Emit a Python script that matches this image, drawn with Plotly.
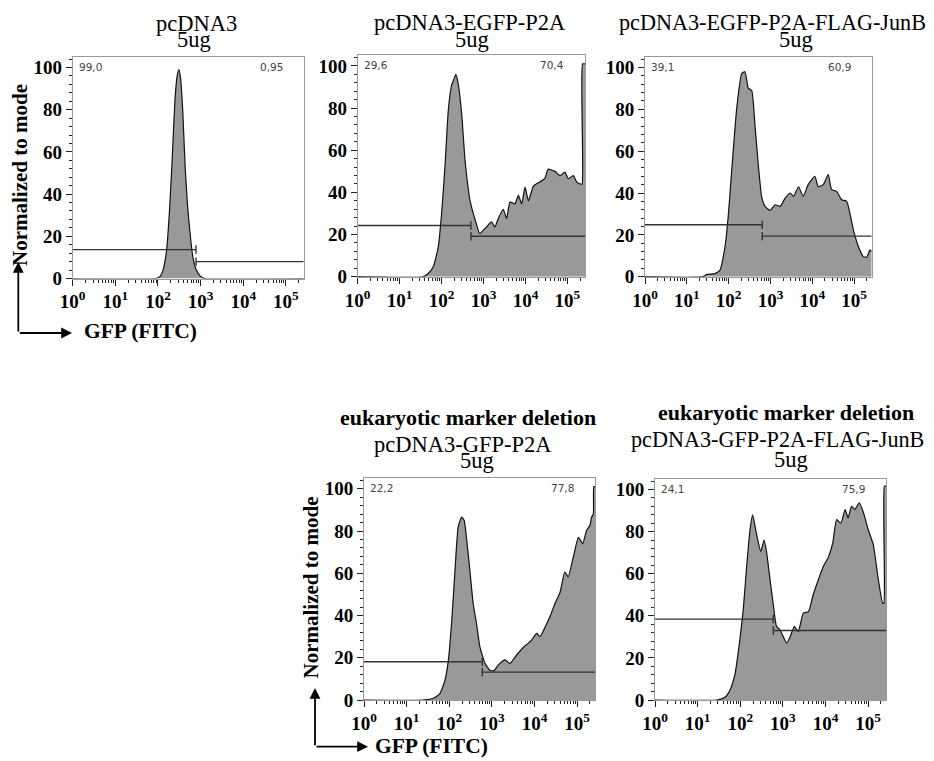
import numpy as np
import plotly.graph_objects as go

W, H = 934, 761
OFF = 8.0  # page offset of the plot inside the browser window
XMAX = 262144.0

# ---- data (x in log10 decades of GFP intensity, y = % of mode) ----
p1_dec = [0, 1.95, 2.05, 2.12, 2.2, 2.27, 2.33, 2.4, 2.45, 2.49, 2.53, 2.58, 2.64, 2.7, 2.76, 2.82, 2.9, 3.0, 3.1, 5.4186]
p1_val = [0, 0, 1, 4, 13, 32, 55, 85, 96, 99, 95, 80, 52, 33, 20, 10, 4, 1, 0, 0]

p2_dec = [0, 1.56, 1.68, 1.80, 1.92, 2.0, 2.08, 2.16, 2.24, 2.30, 2.34, 2.40, 2.48, 2.56, 2.68, 2.80, 2.91, 2.99, 3.07,
          3.19, 3.27, 3.35, 3.47, 3.55, 3.63, 3.75, 3.83, 3.91, 3.99, 4.07, 4.19, 4.34, 4.46, 4.54, 4.70, 4.82,
          4.94, 5.02, 5.14, 5.22, 5.31, 5.35, 5.36, 5.4186]
p2_val = [0, 0, 1.5, 4.7, 14, 30, 52, 79, 91, 94, 96, 91, 77, 55, 36, 27, 20.5, 22, 23.6,
          26, 23.6, 27.6, 32, 27.6, 35.4, 34.6, 38.6, 34.6, 42.5, 36, 43, 45, 46.5, 51, 50, 48,
          49.6, 46.5, 48, 45, 44, 44, 101, 101]

p3_dec = [0, 1.39, 1.47, 1.67, 1.79, 1.91, 1.99, 2.07, 2.19, 2.31, 2.39, 2.47, 2.55, 2.63, 2.71, 2.79, 2.87, 2.99,
          3.11, 3.23, 3.35, 3.47, 3.55, 3.67, 3.78, 3.90, 4.06, 4.14, 4.26, 4.38, 4.46, 4.58, 4.70, 4.82,
          4.98, 5.10, 5.22, 5.30, 5.38, 5.4186]
p3_val = [0, 0, 1, 1.5, 3, 14, 29, 50, 80, 97, 98, 90, 89, 72, 53, 38, 33.6, 31.7,
          34.4, 33.6, 37.6, 40, 38.4, 43, 38.4, 44, 48, 43, 44, 48.8, 41.6, 40.8, 36.8, 36,
          22.4, 14.4, 9.6, 9.3, 12.8, 12]

p4_dec = [0, 1.39, 1.63, 1.78, 1.90, 1.98, 2.06, 2.13, 2.21, 2.29, 2.35, 2.41, 2.49, 2.56, 2.64, 2.72, 2.84, 2.96,
          3.05, 3.15, 3.31, 3.42, 3.58, 3.74, 3.85, 3.93, 4.05, 4.13, 4.25, 4.36, 4.48, 4.60, 4.71, 4.79,
          4.91, 5.03, 5.13, 5.22, 5.30, 5.34, 5.38, 5.39, 5.4186]
p4_val = [0, 0, 0.8, 3, 9.4, 19, 38, 60, 82, 86.6, 85, 75.6, 60, 45.7, 36, 25, 17.3, 14,
          13.9, 16.5, 19, 17.3, 21.3, 25, 26.8, 28.3, 31.5, 30, 34.6, 39.4, 45.7, 51, 60.6, 58.3,
          67.7, 77, 74, 80.3, 82.7, 86.6, 88, 101, 101]

p5_dec = [0, 1.45, 1.64, 1.76, 1.88, 1.99, 2.07, 2.15, 2.23, 2.29, 2.38, 2.48, 2.56, 2.62, 2.70, 2.78, 2.85, 2.93,
          3.01, 3.09, 3.17, 3.27, 3.36, 3.48, 3.60, 3.71, 3.83, 3.95, 4.07, 4.17, 4.26, 4.36, 4.46, 4.53,
          4.61, 4.69, 4.79, 4.89, 5.00, 5.12, 5.24, 5.34, 5.37, 5.38, 5.4186]
p5_val = [0, 0, 1.3, 4.8, 12.7, 28.6, 42.9, 63.5, 81, 88, 79, 70.6, 76, 69.8, 57, 44.4, 35, 33.3,
          30, 27, 30, 35, 32.5, 41.3, 42, 50, 57, 63.5, 68, 74.6, 85.7, 84, 90.5, 86.5,
          92, 90.5, 93.7, 89, 81, 73.8, 57, 46, 46, 101.6, 101.6]

titles = [["pcDNA3", "5ug"],
          ["pcDNA3-EGFP-P2A", "5ug"],
          ["pcDNA3-EGFP-P2A-FLAG-JunB", "5ug"],
          ["<b>eukaryotic marker deletion</b>", "pcDNA3-GFP-P2A", "5ug"],
          ["<b>eukaryotic marker deletion</b>", "pcDNA3-GFP-P2A-FLAG-JunB", "5ug"]]
pct_left = ["99,0", "29,6", "39,1", "22,2", "24,1"]
pct_right = ["0,95", "70,4", "60,9", "77,8", "75,9"]
gate_split = [780, 500, 635, 596, 596]
gate_left_y = [13.7, 24.3, 24.8, 18.1, 38.4]
gate_right_y = [8.0, 19.2, 19.4, 13.2, 33.0]

x_ticks = [1, 10, 100, 1000, 10000, 100000]
x_ticktext = ["<b>10<sup>%d</sup></b>" % i for i in range(6)]
y_ticks = [0, 20, 40, 60, 80, 100]

curves = [(p1_dec, p1_val), (p2_dec, p2_val), (p3_dec, p3_val), (p4_dec, p4_val), (p5_dec, p5_val)]

# ---- layout geometry (window pixels) ----
boxes = [  # left, right, y0 pixel, y100 pixel
    (72.7, 303.7, 278.5, 67.5),
    (357.7, 585.0, 276.7, 66.0),
    (645.0, 871.7, 276.7, 67.5),
    (364.0, 595.0, 700.0, 488.8),
    (655.0, 886.0, 700.0, 489.5),
]
title_pos = [  # (center x, baseline y, font size) per line
    [(196.5, 31, 22.5), (194, 46.7, 22.5)],
    [(470, 30, 22.5), (471.7, 46.7, 22.5)],
    [(772, 30, 22.2), (795.8, 46.7, 22.5)],
    [(468, 425, 22), (462.5, 451.7, 22.5), (476.7, 468.3, 22.5)],
    [(786, 420, 22), (777, 446.7, 22.2), (790.8, 466.7, 22.5)],
]


def px(x):
    return (x - OFF) / W


def py(y):
    return 1 - (y - OFF) / H


minor_x = [m * 10 ** d for d in range(0, 6) for m in range(2, 10) if m * 10 ** d < XMAX]
minor_y = [v for v in range(0, 105, 4) if v % 20 != 0]

fig = go.Figure()
layout = dict(width=W, height=H, margin=dict(l=0, r=0, t=0, b=0, pad=0, autoexpand=False),
              paper_bgcolor="white", plot_bgcolor="white", showlegend=False)
annotations = []
serif = "Liberation Serif, Times New Roman, serif"

for i, ((dec, val), (l, r, y0, y100)) in enumerate(zip(curves, boxes)):
    n = "" if i == 0 else str(i + 1)
    xa, ya = "x" + n, "y" + n
    top = y0 - 1.05 * (y0 - y100)
    layout["xaxis" + n] = dict(
        domain=[px(l), px(r)], anchor=ya, type="log", range=[0, np.log10(XMAX)],
        tickvals=x_ticks, ticktext=x_ticktext, ticks="outside", ticklen=6, tickwidth=1,
        tickcolor="#222", showline=True, linecolor="#999", linewidth=1, mirror=True,
        showgrid=False, zeroline=False, automargin=False,
        tickfont=dict(family=serif, size=19, color="black"),
        minor=dict(tickvals=minor_x, ticks="outside", ticklen=3, tickcolor="#222", tickwidth=1, showgrid=False))
    layout["yaxis" + n] = dict(
        domain=[py(y0), py(top)], anchor=xa, range=[0, 105],
        tickvals=y_ticks, ticktext=["<b>%d</b>" % v for v in y_ticks], ticks="outside", ticklen=6,
        tickwidth=1, tickcolor="#222", showline=True, linecolor="#999", linewidth=1, mirror=True,
        showgrid=False, zeroline=False, automargin=False,
        tickfont=dict(family=serif, size=19, color="black"),
        minor=dict(tickvals=minor_y, ticks="outside", ticklen=3, tickcolor="#222", tickwidth=1, showgrid=False))

    xs = [10 ** d for d in dec]
    xs[-1] = XMAX
    fig.add_trace(go.Scatter(x=xs, y=val, xaxis=xa, yaxis=ya, mode="lines",
                             line=dict(color="#111", width=1.2, shape="spline", smoothing=0.5),
                             fill="tozeroy", fillcolor="#999999", hoverinfo="skip"))
    gs = gate_split[i]
    gl, gr = gate_left_y[i], gate_right_y[i]
    cap = 2.0
    fig.add_trace(go.Scatter(x=[1, gs, None, gs, gs], y=[gl, gl, None, gl - cap, gl + cap],
                             xaxis=xa, yaxis=ya, mode="lines",
                             line=dict(color="#333", width=1.4), hoverinfo="skip"))
    fig.add_trace(go.Scatter(x=[gs, XMAX, None, gs, gs], y=[gr, gr, None, gr - cap, gr + cap],
                             xaxis=xa, yaxis=ya, mode="lines",
                             line=dict(color="#333", width=1.4), hoverinfo="skip"))
    annotations.append(dict(text=pct_left[i], xref=xa + " domain", yref=ya + " domain", x=0.018, y=0.955,
                            xanchor="left", yanchor="middle", showarrow=False,
                            font=dict(family="DejaVu Sans", size=10.5, color="#444")))
    annotations.append(dict(text=pct_right[i], xref=xa + " domain", yref=ya + " domain", x=0.918, y=0.955,
                            xanchor="right", yanchor="middle", showarrow=False,
                            font=dict(family="DejaVu Sans", size=10.5, color="#444")))
    for txt, (cx, by, fs) in zip(titles[i], title_pos[i]):
        annotations.append(dict(text=txt, xref="paper", yref="paper", x=px(cx), y=py(by - 7.5),
                                xanchor="center", yanchor="middle", showarrow=False,
                                font=dict(family=serif, size=fs, color="black")))

for (yx, yy, ax_x, ax_y0, ax_y1, ax_x1, tx, ty) in [(20, 175, 18.3, 333, 262, 72, 81.7, 331),
                                                     (310.5, 588, 315, 746.7, 688, 368, 373, 746)]:
    annotations.append(dict(text="<b>Normalized to mode</b>", xref="paper", yref="paper", x=px(yx), y=py(yy),
                            textangle=-90, showarrow=False, xanchor="center", yanchor="middle",
                            font=dict(family=serif, size=21, color="black")))
    annotations.append(dict(text="<b>GFP (FITC)</b>", xref="paper", yref="paper", x=px(tx), y=py(ty),
                            showarrow=False, xanchor="left", yanchor="middle",
                            font=dict(family=serif, size=21.5, color="black")))
    annotations.append(dict(text="", xref="paper", yref="paper", x=px(ax_x), y=py(ax_y1),
                            ax=0, ay=ax_y0 - ax_y1, showarrow=True, arrowhead=2, arrowsize=1.2,
                            arrowwidth=1.8, arrowcolor="black"))
    annotations.append(dict(text="", xref="paper", yref="paper", x=px(ax_x1), y=py(ax_y0),
                            ax=-(ax_x1 - ax_x), ay=0, showarrow=True, arrowhead=2, arrowsize=1.2,
                            arrowwidth=1.8, arrowcolor="black"))

layout["annotations"] = annotations
fig.update_layout(**layout)
fig.write_html("out.html")
